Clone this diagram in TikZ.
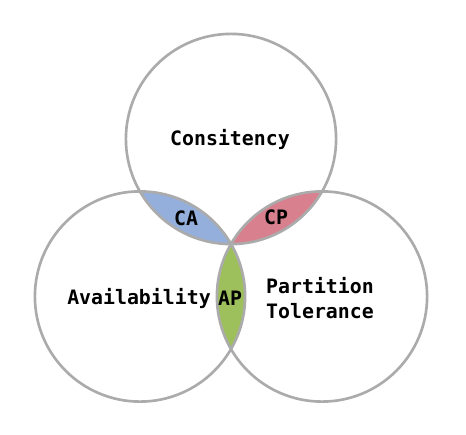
\documentclass[tikz,border=0pt]{standalone}
\usepackage{fontspec}
\setmonofont{DejaVu Sans Mono}
\usepackage{tikz}
\usepackage{xcolor}
\definecolor{ringgray}{HTML}{ABABAB}
\definecolor{cablue}{HTML}{94AFDC}
\definecolor{cpred}{HTML}{D9808E}
\definecolor{apgreen}{HTML}{9DC05C}
\begin{document}
\begin{tikzpicture}[x=0.02cm,y=-0.02cm,font=\ttfamily\bfseries\fontsize{11.3}{14.2}\selectfont,ring/.style={draw=ringgray,line width=1.5pt},every node/.style={align=center,inner sep=1pt}]
\useasboundingbox (0,0) rectangle (466,435);
\def\rr{105.1}
\coordinate(c) at (231,139);\coordinate(a) at (140,296.5);\coordinate(p) at (322,296.5);
% lenses
\begin{scope}\clip (c) circle[radius=\rr];\fill[cablue] (a) circle[radius=\rr];\fill[cpred] (p) circle[radius=\rr];\end{scope}
\begin{scope}\clip (a) circle[radius=\rr];\fill[apgreen] (p) circle[radius=\rr];\end{scope}
\draw[ring] (c) circle[radius=\rr];\draw[ring] (a) circle[radius=\rr];\draw[ring] (p) circle[radius=\rr];
\node(cons) at (230,139){Consitency};
\node(avail) at (139,298){Availability};
\node(part) at (320,298.5){Partition\\Tolerance};
\node(ca) at (186,218){CA};
\node(cp) at (276,217){CP};
\node(ap) at (230,298){AP};
\end{tikzpicture}
\end{document}
